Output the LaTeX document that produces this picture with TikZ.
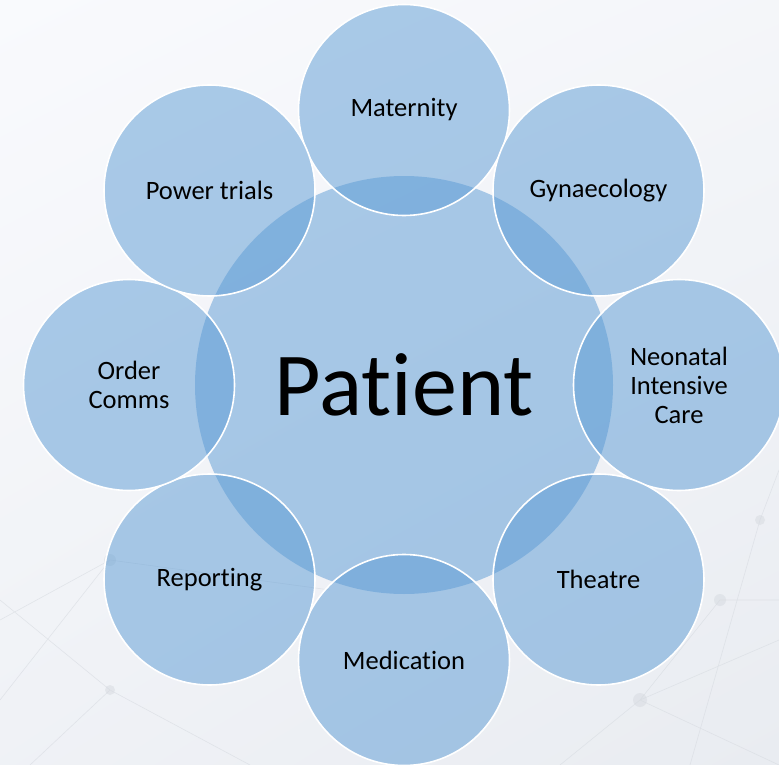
\documentclass[tikz,border=0pt]{standalone}
\usepackage{fontspec}
\setmainfont{Carlito}[Ligatures=NoCommon]
\usetikzlibrary{shapes.geometric}
\usetikzlibrary{shadings}

\definecolor{ringblue}{RGB}{91,155,213}
\definecolor{bgtop}{RGB}{249,250,253}
\definecolor{bgbottom}{RGB}{233,236,241}
\definecolor{netgray}{RGB}{214,218,224}

\tikzset{
  hub/.style = {circle, inner sep=0pt, minimum size=418pt, fill=ringblue,
                fill opacity=0.5, text opacity=1, font=\fontsize{90}{92}\selectfont},
  spoke/.style = {circle, inner sep=0pt, minimum size=211pt, fill=ringblue,
                  fill opacity=0.5, text opacity=1, draw=white, line width=1.6pt,
                  align=center, font=\fontsize{26.5}{29}\selectfont},
  net/.style = {netgray, line width=0.6pt, opacity=0.6}
}

\begin{document}
\begin{tikzpicture}[x=1pt,y=-1pt]

            % page and background
            \useasboundingbox (0,0) rectangle (779,765);
            \shade[upper left=bgtop, upper right=bgtop!70!bgbottom,
                   lower left=bgtop!40!bgbottom, lower right=bgbottom]
                   (0,0) rectangle (779,765);

            % faint network behind the circles
            \draw[net] (0,620) -- (110,560) -- (330,590)
                       (0,700) -- (110,560)
                       (30,765) -- (110,690) -- (250,765)
                       (110,690) -- (0,600)
                       (560,765) -- (640,700) -- (779,640)
                       (640,700) -- (779,765)
                       (690,765) -- (760,520) -- (779,470)
                       (640,700) -- (720,600) -- (779,600);
            \fill[netgray, opacity=0.5] (110,560) circle (6) (110,690) circle (5)
                                        (640,700) circle (7) (720,600) circle (6)
                                        (760,520) circle (5);

            \path   (404,385) node (patient) [hub] {Patient};

            \path   (404,110)     node (maternity)  [spoke] {Maternity}
                    (598.5,190.5) node (gynae)      [spoke] {Gynaecology}
                    (679,385)     node (neonatal)   [spoke] {Neonatal\\Intensive\\Care}
                    (598.5,579.5) node (theatre)    [spoke] {Theatre}
                    (404,660)     node (medication) [spoke] {Medication}
                    (209.5,579.5) node (reporting)  [spoke] {Reporting}
                    (129,385)     node (order)      [spoke] {Order\\Comms}
                    (209.5,190.5) node (power)      [spoke] {Power trials};
        \end{tikzpicture}
\end{document}
